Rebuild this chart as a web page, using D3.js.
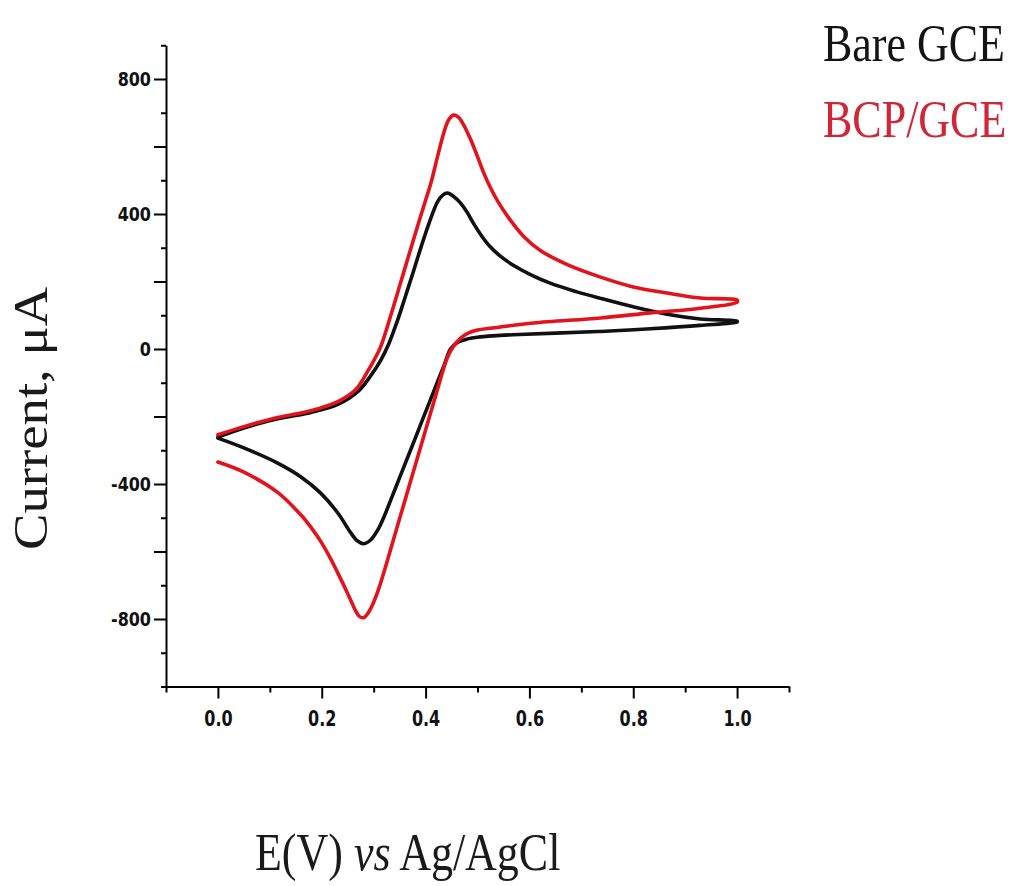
<!DOCTYPE html>
<html>
<head>
<meta charset="utf-8">
<script src="https://cdn.jsdelivr.net/npm/d3@7/dist/d3.min.js"></script>
<style>
  html, body { margin: 0; padding: 0; background: #fff; }
  svg { display: block; }
</style>
</head>
<body>
<svg id="chart" width="1014" height="886"></svg>
<script>
// Cyclic voltammograms: bare glassy carbon electrode vs BCP-modified electrode

// Bare GCE, anodic (forward) sweep
const bareFwdE = [0.000, 0.050, 0.115, 0.179, 0.231, 0.271, 0.294, 0.313, 0.329, 0.346, 0.362, 0.377, 0.390, 0.404, 0.415, 0.423, 0.433, 0.442, 0.454, 0.467, 0.480, 0.492, 0.508, 0.525, 0.544, 0.569, 0.600, 0.640, 0.690, 0.737, 0.800, 0.865, 0.929, 1.000];
const bareFwdI = [-261, -234, -207, -188, -164, -124, -80, -35, 15, 85, 160, 232, 296, 361, 408, 436, 456, 462, 452, 433, 405, 373, 335, 302, 275, 248, 222, 195, 170, 150, 125, 103, 89, 82];
// Bare GCE, cathodic (reverse) sweep
const bareRevE = [1.000, 0.929, 0.833, 0.737, 0.650, 0.580, 0.530, 0.500, 0.481, 0.462, 0.448, 0.436, 0.423, 0.410, 0.396, 0.380, 0.365, 0.349, 0.333, 0.320, 0.308, 0.294, 0.281, 0.269, 0.256, 0.231, 0.198, 0.160, 0.115, 0.050, 0.000];
const bareRevI = [80, 70, 60, 52, 47, 43, 39, 35, 30, 20, 0, -47, -97, -148, -202, -265, -323, -385, -447, -497, -536, -566, -577, -569, -545, -486, -427, -379, -338, -293, -264];

// BCP/GCE, anodic (forward) sweep
const bcpFwdE = [0.000, 0.050, 0.115, 0.179, 0.231, 0.265, 0.290, 0.300, 0.313, 0.333, 0.352, 0.371, 0.387, 0.400, 0.410, 0.423, 0.435, 0.444, 0.454, 0.463, 0.473, 0.487, 0.500, 0.512, 0.525, 0.540, 0.558, 0.588, 0.621, 0.673, 0.737, 0.800, 0.865, 0.929, 1.000];
const bcpFwdI = [-254, -230, -203, -183, -156, -121, -62, -35, 5, 100, 197, 295, 376, 441, 490, 570, 640, 678, 693, 687, 665, 620, 570, 522, 478, 435, 393, 335, 292, 250, 213, 184, 166, 151, 145];
// BCP/GCE, cathodic (reverse) sweep
const bcpRevE = [1.000, 0.929, 0.833, 0.737, 0.608, 0.544, 0.500, 0.481, 0.466, 0.454, 0.442, 0.421, 0.400, 0.380, 0.360, 0.340, 0.320, 0.308, 0.298, 0.289, 0.281, 0.273, 0.265, 0.256, 0.244, 0.231, 0.215, 0.198, 0.180, 0.160, 0.115, 0.050, 0.000];
const bcpRevI = [139, 121, 107, 92, 77, 65, 56, 46, 30, 8, -25, -130, -240, -345, -450, -555, -660, -718, -757, -783, -796, -793, -775, -745, -705, -664, -615, -570, -530, -492, -425, -365, -335];

// Axis ticks
const xMajorTicks = [0.0, 0.2, 0.4, 0.6, 0.8, 1.0];
const xMinorTicks = [-0.1, 0.1, 0.3, 0.5, 0.7, 0.9, 1.1];
const yMajorTicks = [-800, -600, -400, -200, 0, 200, 400, 600, 800];
const yLabelTicks = [-800, -400, 0, 400, 800];
const yMinorTicks = [-1000, -900, -700, -500, -300, -100, 100, 300, 500, 700, 900];

const seriesNames = ["Bare GCE", "BCP/GCE"];
const seriesColors = ["#111111", "#e3121b"];
const legendColors = ["#141414", "#d02638"];

const svg = d3.select("#chart");

const x = d3.scaleLinear().domain([-0.1, 1.1]).range([166, 789]);
const y = d3.scaleLinear().domain([-1000, 900]).range([686.5, 45.25]);

// minor ticks (unlabelled)
svg.append("g")
  .attr("transform", `translate(0,${y(-1000)})`)
  .call(d3.axisBottom(x).tickValues(xMinorTicks).tickSize(6).tickSizeOuter(0).tickFormat(""))
  .call(g => g.select(".domain").remove())
  .call(g => g.selectAll("line").attr("stroke", "#000").attr("stroke-width", 2));

svg.append("g")
  .attr("transform", `translate(${x(-0.1)},0)`)
  .call(d3.axisLeft(y).tickValues(yMinorTicks).tickSize(5).tickSizeOuter(0).tickFormat(""))
  .call(g => g.select(".domain").remove())
  .call(g => g.selectAll("line").attr("stroke", "#000").attr("stroke-width", 2));

// major x ticks
const xAxis = svg.append("g")
  .attr("transform", `translate(0,${y(-1000)})`)
  .call(d3.axisBottom(x).tickValues(xMajorTicks).tickSize(12).tickSizeOuter(0).tickFormat(d3.format(".1f")));
xAxis.select(".domain").attr("stroke", "#000").attr("stroke-width", 2);
xAxis.selectAll(".tick line").attr("stroke", "#000").attr("stroke-width", 2);
xAxis.selectAll(".tick text")
  .attr("fill", "#111")
  .attr("font-family", "DejaVu Sans")
  .attr("font-weight", "bold")
  .attr("font-size", 16)
  .attr("y", 0).attr("dy", 0)
  .attr("transform", "translate(0,39) scale(1,1.35)");

// major y ticks, labels on every other
const yAxis = svg.append("g")
  .attr("transform", `translate(${x(-0.1)},0)`)
  .call(d3.axisLeft(y).tickValues(yMajorTicks).tickSize(12).tickSizeOuter(0)
    .tickFormat(d => yLabelTicks.includes(d) ? String(d) : ""));
yAxis.select(".domain").attr("stroke", "#000").attr("stroke-width", 2);
yAxis.selectAll(".tick line").attr("stroke", "#000").attr("stroke-width", 2);
yAxis.selectAll(".tick text")
  .attr("fill", "#111")
  .attr("font-family", "DejaVu Sans")
  .attr("font-weight", "bold")
  .attr("font-size", 16)
  .attr("x", 0).attr("dy", 0)
  .attr("transform", "translate(-15,6) scale(1,1.2)");

// voltammogram traces
const line = d3.line()
  .x(d => x(d[0]))
  .y(d => y(d[1]))
  .curve(d3.curveCatmullRom.alpha(0.5));

const loops = [
  bareFwdE.map((e, i) => [e, bareFwdI[i]]).concat(bareRevE.map((e, i) => [e, bareRevI[i]])),
  bcpFwdE.map((e, i) => [e, bcpFwdI[i]]).concat(bcpRevE.map((e, i) => [e, bcpRevI[i]]))
];

svg.append("g").selectAll("path")
  .data(loops)
  .join("path")
  .attr("d", line)
  .attr("fill", "none")
  .attr("stroke", (d, i) => seriesColors[i])
  .attr("stroke-width", 3.6)
  .attr("stroke-linejoin", "round")
  .attr("stroke-linecap", "round");

// legend
const legendY = [61, 137];
svg.append("g").selectAll("text")
  .data(seriesNames)
  .join("text")
  .attr("transform", (d, i) => `translate(823,${legendY[i]}) scale(1,1.2)`)
  .attr("font-family", "Liberation Serif")
  .attr("font-size", 44)
  .attr("fill", (d, i) => legendColors[i])
  .text(d => d);

// axis titles
svg.append("text")
  .attr("transform", "translate(47,550) scale(1,1.14) rotate(-90)")
  .attr("font-family", "Liberation Serif")
  .attr("font-size", 48)
  .attr("fill", "#1a1a1a")
  .text("Current, μA");

const xt = svg.append("text")
  .attr("transform", "translate(255,870) scale(1,1.2)")
  .attr("font-family", "Liberation Serif")
  .attr("font-size", 44)
  .attr("fill", "#1a1a1a");
xt.append("tspan").text("E(V) ");
xt.append("tspan").attr("font-style", "italic").text("vs");
xt.append("tspan").text(" Ag/AgCl");
</script>
</body>
</html>
